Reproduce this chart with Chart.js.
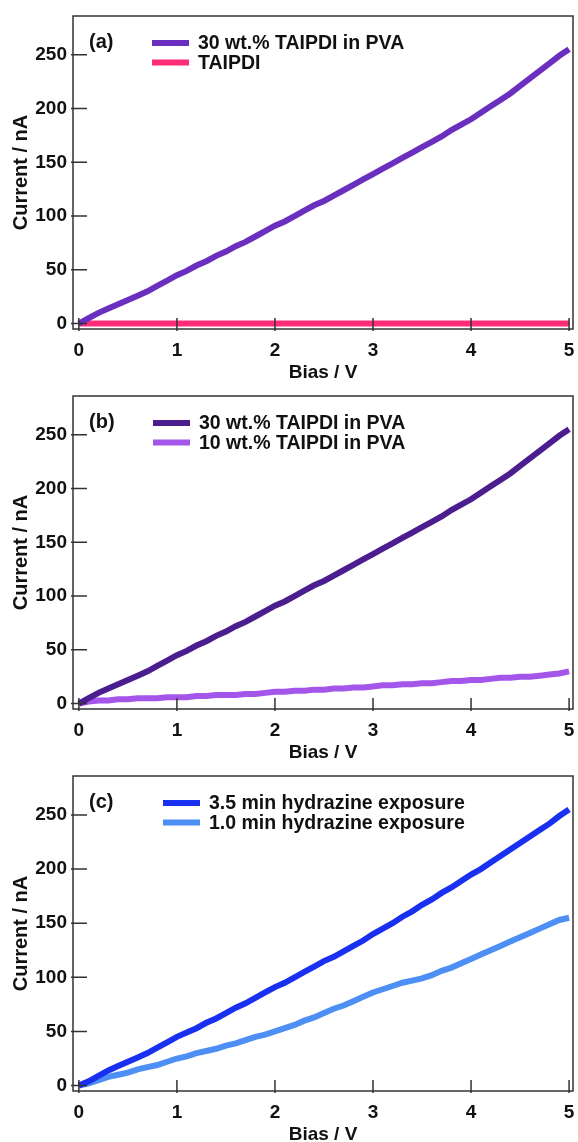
<!DOCTYPE html>
<html>
<head>
<meta charset="utf-8">
<script src="https://cdn.jsdelivr.net/npm/chart.js@4.4.0/dist/chart.umd.min.js"></script>
<style>
  body { margin: 0; background: #fff; }
  canvas { display: block; }
</style>
</head>
<body>
<canvas id="chartA" width="578" height="380"></canvas>
<canvas id="chartB" width="578" height="380"></canvas>
<canvas id="chartC" width="578" height="382"></canvas>
<script>
'use strict';
// bias sweep, 0.1 V steps
let biasV = [0, 0.1, 0.2, 0.3, 0.4, 0.5, 0.6, 0.7, 0.8, 0.9,
  1.0, 1.1, 1.2, 1.3, 1.4, 1.5, 1.6, 1.7, 1.8, 1.9,
  2.0, 2.1, 2.2, 2.3, 2.4, 2.5, 2.6, 2.7, 2.8, 2.9,
  3.0, 3.1, 3.2, 3.3, 3.4, 3.5, 3.6, 3.7, 3.8, 3.9,
  4.0, 4.1, 4.2, 4.3, 4.4, 4.5, 4.6, 4.7, 4.8, 4.9, 5.0];
let biasCoarse = [0, 1, 2, 3, 4, 5];
// current in nA
let taipdi30 = [0, 5, 10, 14, 18, 22, 26, 30, 35, 40,
  45, 49, 54, 58, 63, 67, 72, 76, 81, 86,
  91, 95, 100, 105, 110, 114, 119, 124, 129, 134,
  139, 144, 149, 154, 159, 164, 169, 174, 180, 185,
  190, 196, 202, 208, 214, 221, 228, 235, 242, 249, 255];
let taipdiPure = [0, 0, 0, 0, 0, 0];
let taipdi10 = [0, 2, 3, 3, 4, 4, 5, 5, 5, 6,
  6, 6, 7, 7, 8, 8, 8, 9, 9, 10,
  11, 11, 12, 12, 13, 13, 14, 14, 15, 15,
  16, 17, 17, 18, 18, 19, 19, 20, 21, 21,
  22, 22, 23, 24, 24, 25, 25, 26, 27, 28, 30];
let hydrazine35 = [0, 4, 9, 14, 18, 22, 26, 30, 35, 40,
  45, 49, 53, 58, 62, 67, 72, 76, 81, 86,
  91, 95, 100, 105, 110, 115, 119, 124, 129, 134,
  140, 145, 150, 156, 161, 167, 172, 178, 183, 189,
  195, 200, 206, 212, 218, 224, 230, 236, 242, 249, 255];
let hydrazine10 = [0, 2, 5, 8, 10, 12, 15, 17, 19, 22,
  25, 27, 30, 32, 34, 37, 39, 42, 45, 47,
  50, 53, 56, 60, 63, 67, 71, 74, 78, 82,
  86, 89, 92, 95, 97, 99, 102, 106, 109, 113,
  117, 121, 125, 129, 133, 137, 141, 145, 149, 153, 155];
let xTicks = [0, 1, 2, 3, 4, 5];
let yTicks = [0, 50, 100, 150, 200, 250];

const FONT = '"Liberation Sans", Arial, Helvetica, sans-serif';

function points(xs, ys) {
  return xs.map((x, i) => ({ x: x, y: ys[i] }));
}

function series(label, xs, ys, color) {
  return {
    label: label,
    data: points(xs, ys),
    borderColor: color,
    backgroundColor: color,
    borderWidth: 6,
    pointRadius: 0,
    fill: false
  };
}

// box around the plot and short inward ticks
const frameTicks = {
  id: 'frameTicks',
  afterDatasetsDraw(chart) {
    const { ctx, chartArea: a, scales } = chart;
    ctx.save();
    ctx.strokeStyle = '#333';
    ctx.lineWidth = 1.5;
    ctx.strokeRect(a.left, a.top, a.right - a.left, a.bottom - a.top);
    ctx.beginPath();
    scales.y.ticks.forEach(t => {
      let py = scales.y.getPixelForValue(t.value);
      ctx.moveTo(a.left - 2, py);
      ctx.lineTo(a.left + 14, py);
    });
    scales.x.ticks.forEach(t => {
      let px = scales.x.getPixelForValue(t.value);
      ctx.moveTo(px, a.bottom + 2);
      ctx.lineTo(px, a.bottom - 11);
    });
    ctx.stroke();
    ctx.restore();
  }
};

// panel letter and legend lines
const panelKey = {
  id: 'panelKey',
  afterDraw(chart, args, opts) {
    const ctx = chart.ctx;
    ctx.save();
    ctx.fillStyle = '#111';
    ctx.textBaseline = 'middle';
    ctx.font = 'bold 20px ' + FONT;
    ctx.fillText(opts.label, 89, 42);
    ctx.font = 'bold 19.5px ' + FONT;
    chart.data.datasets.forEach((ds, i) => {
      let y = 43 + i * 19.5;
      ctx.strokeStyle = ds.borderColor;
      ctx.lineWidth = 6;
      ctx.beginPath();
      ctx.moveTo(opts.keyX, y);
      ctx.lineTo(opts.keyX + 37, y);
      ctx.stroke();
      ctx.fillText(ds.label, opts.keyX + 46, y + 1);
    });
    ctx.restore();
  }
};

function makeOptions(label, keyX) {
  return {
    responsive: false,
    animation: false,
    layout: { padding: { top: 16, right: 5, left: 0, bottom: 0 } },
    plugins: {
      legend: { display: false },
      tooltip: { enabled: false },
      panelKey: { label: label, keyX: keyX }
    },
    scales: {
      x: {
        type: 'linear',
        min: -0.06,
        max: 5.04,
        afterBuildTicks: s => { s.ticks = xTicks.map(v => ({ value: v })); },
        afterFit: s => { s.height = 51; s.paddingLeft = 0; s.paddingRight = 0; },
        grid: { display: false, drawTicks: false },
        border: { display: false },
        ticks: { padding: 10, color: '#111', font: { family: FONT, size: 19, weight: 'bold' } },
        title: {
          display: true, text: 'Bias / V', color: '#111', padding: { top: 0, bottom: -2 },
          font: { family: FONT, size: 19, weight: 'bold', lineHeight: 1 }
        }
      },
      y: {
        type: 'linear',
        min: -5,
        max: 286,
        afterBuildTicks: s => { s.ticks = yTicks.map(v => ({ value: v })); },
        afterFit: s => { s.width = 73; s.paddingTop = 0; s.paddingBottom = 0; },
        grid: { display: false, drawTicks: false },
        border: { display: false },
        ticks: { padding: 6, color: '#111', font: { family: FONT, size: 19, weight: 'bold' } },
        title: {
          display: true, text: 'Current / nA', color: '#111', padding: { top: 11, bottom: 0 },
          font: { family: FONT, size: 20, weight: 'bold', lineHeight: 1 }
        }
      }
    }
  };
}

new Chart(document.getElementById('chartA'), {
  type: 'line',
  data: {
    datasets: [
      series('30 wt.% TAIPDI in PVA', biasV, taipdi30, '#6b2fc0'),
      series('TAIPDI', biasCoarse, taipdiPure, '#ff2d78')
    ]
  },
  options: makeOptions('(a)', 152),
  plugins: [frameTicks, panelKey]
});

new Chart(document.getElementById('chartB'), {
  type: 'line',
  data: {
    datasets: [
      series('30 wt.% TAIPDI in PVA', biasV, taipdi30, '#4b1d8f'),
      series('10 wt.% TAIPDI in PVA', biasV, taipdi10, '#a455ea')
    ]
  },
  options: makeOptions('(b)', 153),
  plugins: [frameTicks, panelKey]
});

new Chart(document.getElementById('chartC'), {
  type: 'line',
  data: {
    datasets: [
      series('3.5 min hydrazine exposure', biasV, hydrazine35, '#1a30f0'),
      series('1.0 min hydrazine exposure', biasV, hydrazine10, '#4d8ff5')
    ]
  },
  options: makeOptions('(c)', 163),
  plugins: [frameTicks, panelKey]
});
</script>
</body>
</html>
